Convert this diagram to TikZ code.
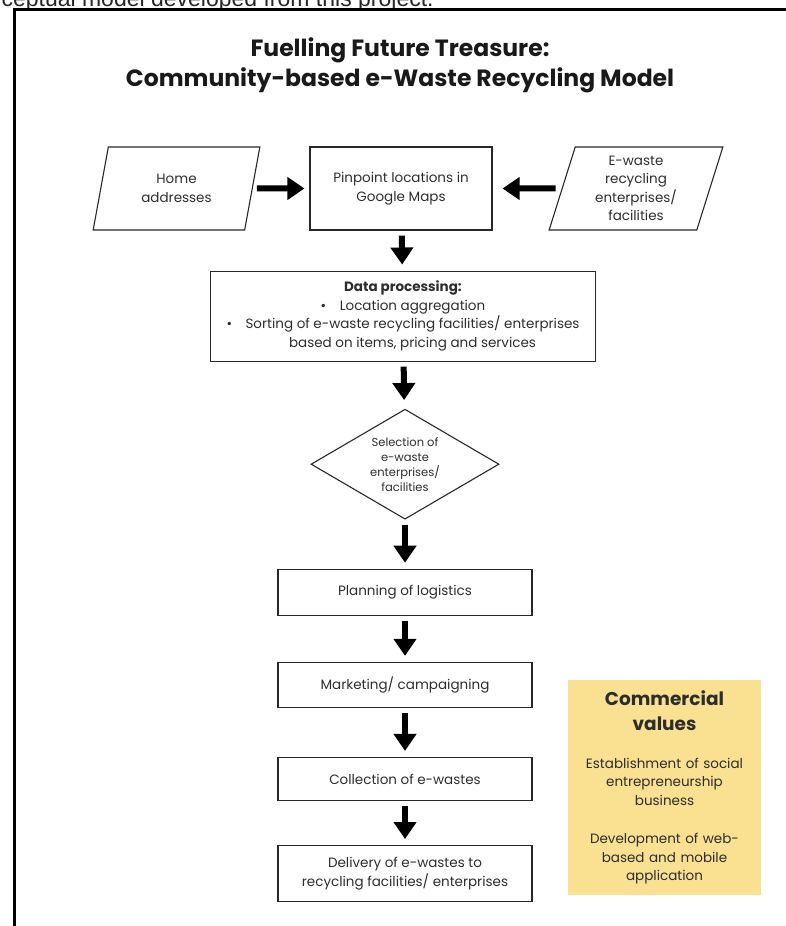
\documentclass[tikz,border=0pt]{standalone}
\usepackage{fontspec}
\setmainfont{Poppins}
\newfontfamily\captionfont{Liberation Sans}
\usetikzlibrary{positioning,shapes.geometric,arrows.meta}
\definecolor{boxline}{RGB}{40,40,40}
\definecolor{textgray}{RGB}{45,45,45}
\definecolor{valuefill}{RGB}{250,224,145}

\begin{document}
\begin{tikzpicture}[x=1pt, y=1pt, node distance=40pt,
  every node/.style={text=textgray, font=\fontsize{13.5}{18.5}\selectfont},
  procbox/.style={draw=boxline, line width=1.1pt, align=center, minimum width=254pt, inner sep=2pt},
  iobox/.style={trapezium, trapezium left angle=75, trapezium right angle=105, trapezium stretches=true,
    draw=boxline, line width=1.1pt, align=center, minimum width=#1, minimum height=83pt, inner sep=1pt},
  choice/.style={diamond, draw=boxline, line width=1.1pt, align=center, minimum width=188pt, minimum height=110pt,
    inner sep=0pt, aspect=1.7, font=\fontsize{11.5}{15}\selectfont},
  flowarrow/.style={-{Triangle[length=17pt,width=22pt]}, line width=6pt, draw=black, shorten <=5pt, shorten >=6pt}]
\useasboundingbox (0,0) rectangle (786,926);
\clip (0,0) rectangle (786,926);

% caption cut off at the top, and the frame
\node[anchor=base west, font=\fontsize{23}{23}\selectfont\captionfont, text=black!85] (cut) at (-2,919) {ceptual model developed from this project.};
\draw[line width=3pt, black] (14,-5) -- (14,916) -- (800,916);

\node[font=\fontsize{23.5}{30}\selectfont\bfseries, text=black!90, align=center] (title) at (400,861) {Fuelling Future Treasure:\\Community-based e-Waste Recycling Model};

% inputs
\node[procbox, minimum width=182pt, minimum height=83pt] (pin) at (401,737.5) {Pinpoint locations in\\Google Maps};
\node[iobox=167pt] (home) at (176.5,737.5) {Home\\addresses};
\node[iobox=174pt] (ewaste) at (636,737.5) {E-waste\\recycling\\enterprises/\\facilities};

% main flow
\node[procbox, minimum width=385pt, minimum height=90pt, below=40pt of pin, xshift=2pt] (data) {\textbf{Data processing:}\\
  \textbullet\quad Location aggregation\\
  \textbullet\quad Sorting of e-waste recycling facilities/ enterprises\\
  \hphantom{\textbullet\quad}based on items, pricing and services};
\node[choice, below=47pt of data, xshift=2pt] (select) {Selection of\\e-waste\\enterprises/\\facilities};
\node[procbox, minimum height=46pt, below=49pt of select] (plan) {Planning of logistics};
\node[procbox, minimum height=45pt, below=46pt of plan] (market) {Marketing/ campaigning};
\node[procbox, minimum height=43pt, below=49pt of market] (collect) {Collection of e-wastes};
\node[procbox, minimum height=56pt, below=44pt of collect] (deliver) {Delivery of e-wastes to\\recycling facilities/ enterprises};

% side panel
\node[fill=valuefill, minimum width=193pt, minimum height=215pt, align=center, text width=188pt, inner sep=0pt] (values) at (664.5,138.5)
  {{\fontsize{18.5}{25}\selectfont\bfseries Commercial\\[7pt] values}\\[19pt]
   Establishment of social\\entrepreneurship\\business\\[20pt]
   Development of web-\\based and mobile\\application};

\draw[flowarrow, shorten <=4pt, shorten >=5pt] (home) -- (pin);
\draw[flowarrow, shorten <=6pt, shorten >=10pt] (ewaste) -- (pin);
\draw[flowarrow] (pin) -- (data);
\draw[flowarrow, shorten >=9pt] (data) -- (select);
\draw[flowarrow] (select) -- (plan);
\draw[flowarrow] (plan) -- (market);
\draw[flowarrow] (market) -- (collect);
\draw[flowarrow] (collect) -- (deliver);
\end{tikzpicture}
\end{document}
